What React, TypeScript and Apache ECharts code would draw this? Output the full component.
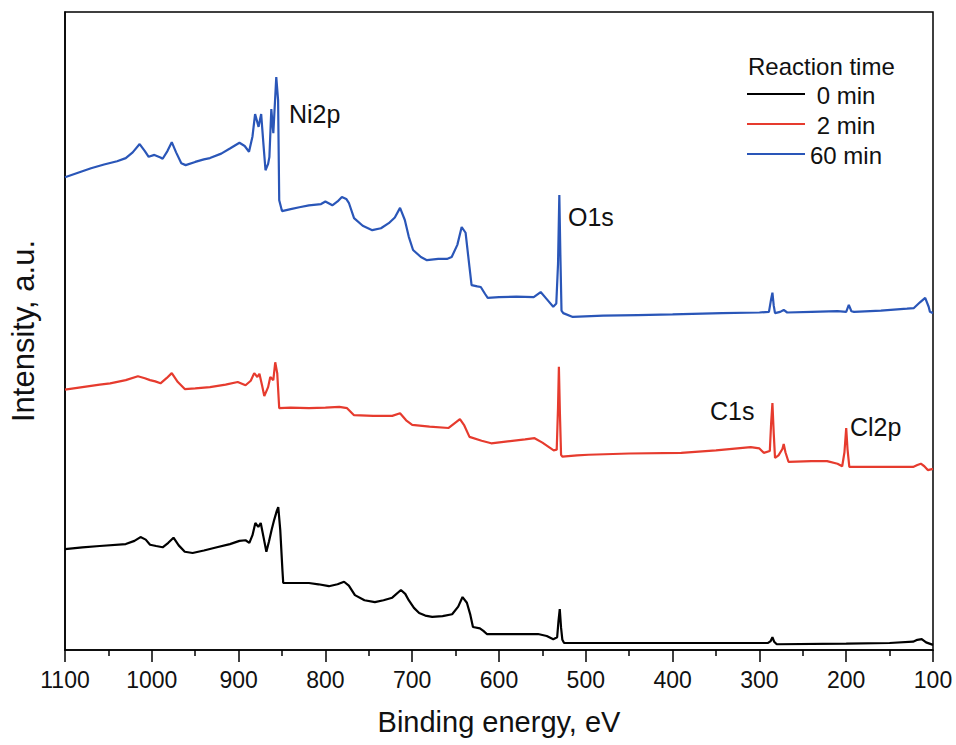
import React, { useEffect, useRef } from "react";
import * as echarts from "echarts";

// Binding energy (eV) vs intensity (a.u.)
const spectrum0min: [number, number][] = [
  [1100,15.8],[1080,16.1],[1060,16.3],[1030,16.6],[1020,17.1],[1013,17.7],[1007,17.3],[1002,16.5],[995,16.3],[987.5,16.1],
  [981,16.8],[975,17.6],[969,16.4],[962,15.4],[953,15.2],[940,15.6],[925,16.1],[910,16.6],[899,17.1],[892,17.2],
  [887.6,16.8],[884,18.0],[880.7,19.9],[877.3,19.3],[874.5,19.9],[871,17.5],[868,15.4],[865,17.0],[862,18.8],[859,20.4],
  [856,21.8],[854.3,22.4],[852,18.8],[849.5,12.5],[848.6,10.5],[830,10.5],[819,10.5],[808,10.3],[796,10.0],[786,10.3],
  [778.5,10.7],[773,10.1],[766,8.6],[755,7.8],[743,7.5],[733,7.8],[723,8.2],[713,9.4],[708,8.8],[704,7.8],
  [698,6.6],[692,5.8],[685,5.4],[677,5.2],[665,5.3],[654,5.6],[647,6.8],[642,8.3],[637,7.4],[633,5.5],
  [630,3.6],[622,3.4],[618,3.0],[614,2.5],[580,2.5],[555,2.5],[545,2.2],[537.5,1.7],[533,2.0],[531.5,4.5],
  [530,6.4],[528.5,3.5],[527,1.6],[525,1.1],[450,1.1],[350,1.1],[290,1.1],[287,1.4],[285,2.0],[283,1.3],
  [280,0.9],[200,1.0],[150,1.1],[123,1.3],[118,1.6],[113,1.7],[108,1.2],[100,0.8]
];

const spectrum2min: [number, number][] = [
  [1100,40.8],[1080,41.2],[1060,41.6],[1048,41.8],[1030,42.3],[1016,42.9],[1008,42.6],[1002,42.3],[996,42.1],[990,41.8],
  [983,42.6],[977,43.4],[970,42.0],[962,40.9],[950,41.0],[933,41.2],[915,41.6],[901,42.0],[892,41.5],[886,42.2],
  [882,43.4],[878.4,42.8],[876,43.3],[873,41.5],[870.4,39.8],[866,41.2],[863.5,42.8],[860,42.3],[857.8,45.1],[855.5,43.4],
  [853.2,37.9],[840,38.0],[819,37.9],[800,38.0],[784,38.1],[775,37.9],[767,36.8],[745,36.7],[723,36.7],[714,37.1],
  [707,36.0],[700,35.3],[680,35.0],[658,34.8],[645,36.2],[640,35.2],[634,33.4],[620,32.8],[609,32.4],[590,32.7],
  [570,33.0],[559,33.2],[550,32.5],[537,31.3],[533.5,31.4],[532,38],[531,44.4],[529.8,37],[528.5,30.6],[527,30.3],
  [510,30.5],[497,30.6],[450,30.8],[390,30.9],[350,31.3],[310,31.8],[300,31.6],[295,30.9],[288,31.2],[286.5,35.5],
  [285,38.7],[283.5,34.0],[282,30.1],[278,30.5],[273.5,31.5],[272,32.3],[270,31.0],[266.5,29.5],[240,29.6],[222,29.6],
  [210,29.2],[204.6,28.8],[202,31],[200,34.8],[198.5,31.5],[196.4,28.7],[160,28.7],[123,28.7],[118,29.0],[114,29.2],
  [110,28.8],[106,28.2],[100,28.4]
];

const spectrum60min: [number, number][] = [
  [1100,74.1],[1085,74.8],[1070,75.5],[1055,76.1],[1040,76.6],[1030,77.1],[1022,78.0],[1014,79.3],[1008,78.2],[1003.6,77.3],
  [997,77.6],[990,77.2],[987.5,77.0],[982,78.2],[977,79.6],[972,78.0],[966,76.3],[961,76.0],[950,76.5],[940,76.9],
  [933,77.1],[920,77.8],[910,78.6],[899,79.5],[893,79.0],[888,78.1],[884,80.5],[881,84.0],[877,82.0],[874,84.0],
  [871.5,79.5],[869,75.2],[866,76.2],[864.5,77.3],[862.3,84.8],[860,81.0],[856.6,89.8],[854.5,86.2],[853.2,70.5],[850,68.8],
  [840,69.1],[830,69.4],[819,69.7],[805,69.9],[800,70.3],[792,69.7],[786,70.3],[781,71.0],[776,70.7],[773,70.1],
  [767,67.7],[757,66.5],[746,65.8],[736,66.1],[727,66.9],[720,67.8],[714,69.3],[708.5,67.4],[704,64.8],[699,62.7],
  [690,61.6],[683,61.1],[670,61.3],[660,61.3],[654.5,61.6],[648,63.5],[643,66.3],[638.5,65.4],[634,60.0],[631.6,57.2],
  [625,57.0],[621,56.9],[616,55.8],[613,55.2],[600,55.3],[580,55.4],[560,55.3],[552,56.1],[545,55.0],[537.5,53.8],
  [534,54.3],[532,60.5],[530.5,71.3],[529.3,62],[528,53.2],[526,52.8],[515,52.2],[480,52.4],[440,52.5],[400,52.6],
  [343,52.8],[300,52.9],[289,53.0],[286.5,55.0],[285,56.0],[283.5,54.0],[282,52.8],[276,53.0],[272,53.3],[268,52.9],
  [240,53.0],[210,53.1],[200,53.0],[197,54.1],[194,53.1],[191,53.0],[160,53.2],[130,53.5],[122,53.6],[115,54.5],
  [109,55.2],[105,53.8],[103.5,53.0],[100,52.8]
];

const seriesNames = ["0 min", "2 min", "60 min"];
const seriesColors = ["#000000", "#e63b2e", "#2a56b8"];
const legendTitle = "Reaction time";
const peakLabels = ["Ni2p", "O1s", "C1s", "Cl2p"];

const FONT = "Liberation Sans, Arial, Helvetica, sans-serif";

export default function App() {
  const ref = useRef<HTMLDivElement>(null);
  useEffect(() => {
    document.body.style.margin = "0";
    if (!ref.current) return;
    const chart = echarts.init(ref.current, undefined, { renderer: "svg" });
    const data = [spectrum0min, spectrum2min, spectrum60min];

    const legendRows = seriesNames.map((n, i) => ({
      type: "group",
      children: [
        { type: "line", shape: { x1: 747, y1: 94 + i * 30, x2: 805, y2: 94 + i * 30 }, style: { stroke: seriesColors[i], lineWidth: 2 } },
        { type: "text", x: 846, y: 95 + i * 30, style: { text: n, font: `24px ${FONT}`, fill: "#111", textAlign: "center", textVerticalAlign: "middle" } },
      ],
    }));

    const labelPos = [
      [289, 114],
      [568, 217],
      [710, 411],
      [850, 427],
    ];

    chart.setOption({
      animation: false,
      backgroundColor: "#ffffff",
      grid: { left: 62, right: 23, top: 12, bottom: 95, show: true, borderColor: "#000", borderWidth: 1.5, backgroundColor: "transparent" },
      xAxis: {
        type: "value",
        min: 100,
        max: 1100,
        interval: 100,
        inverse: true,
        name: "Binding energy, eV",
        nameLocation: "middle",
        nameGap: 57,
        nameTextStyle: { fontSize: 29, color: "#111", fontFamily: FONT },
        axisLine: { show: true, onZero: false, lineStyle: { color: "#000", width: 1.5 } },
        axisTick: { show: true, inside: false, length: 12, lineStyle: { color: "#000", width: 1.5 } },
        minorTick: { show: true, splitNumber: 2, length: 6, lineStyle: { color: "#000", width: 1.5 } },
        axisLabel: { fontSize: 23, color: "#111", fontFamily: FONT, margin: 18, formatter: (v: number) => String(v) },
        splitLine: { show: false },
      },
      yAxis: {
        type: "value",
        min: 0,
        max: 100,
        name: "Intensity, a.u.",
        nameLocation: "middle",
        nameGap: 26,
        nameTextStyle: { fontSize: 31, color: "#111", fontFamily: FONT },
        axisLine: { show: true, lineStyle: { color: "#000", width: 1.5 } },
        axisTick: { show: false },
        axisLabel: { show: false },
        splitLine: { show: false },
      },
      series: data.map((d, i) => ({
        name: seriesNames[i],
        type: "line",
        data: d,
        showSymbol: false,
        symbol: "none",
        lineStyle: { color: seriesColors[i], width: 2.2 },
        z: 2 + i,
      })),
      graphic: [
        { type: "text", x: 748, y: 66, style: { text: legendTitle, font: `24px ${FONT}`, fill: "#111", textVerticalAlign: "middle" } },
        ...legendRows,
        ...peakLabels.map((t, i) => ({
          type: "text",
          x: labelPos[i][0],
          y: labelPos[i][1],
          style: { text: t, font: `25px ${FONT}`, fill: "#111", textVerticalAlign: "middle" },
        })),
      ],
    });
    return () => chart.dispose();
  }, []);
  return <div ref={ref} style={{ width: 956, height: 745 }} />;
}
